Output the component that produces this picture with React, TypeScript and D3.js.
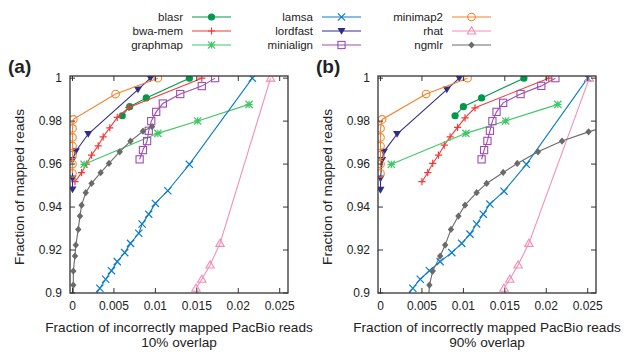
import React from 'react';
import * as d3 from 'd3';

type Pt = [number, number];

const seriesNames = ['blasr', 'bwa-mem', 'graphmap', 'lamsa', 'lordfast', 'minialign', 'minimap2', 'rhat', 'ngmlr'];
const seriesColors = ['#00994a', '#f03a3a', '#3ec864', '#0a7ccc', '#2e2e8a', '#a04cb4', '#f5822c', '#f58cb8', '#6a6a6a'];
const seriesMarkers = ['dot', 'plus', 'star', 'cross', 'tridown', 'square', 'circle', 'triup', 'diamond'];

const xTicks = [0, 0.005, 0.01, 0.015, 0.02, 0.025];
const yTicks = [0.9, 0.92, 0.94, 0.96, 0.98, 1];

// panel (a): 10% overlap
const blasrA: Pt[] = [[0.006, 0.9825], [0.0069, 0.9867], [0.0089, 0.9908], [0.0141, 1.0]];
const bwaA: Pt[] = [[0.0003, 0.9518], [0.0011, 0.956], [0.0017, 0.96], [0.0023, 0.9642], [0.0031, 0.9685], [0.0037, 0.9727], [0.0045, 0.9769], [0.0054, 0.9817], [0.0068, 0.9864], [0.0156, 1.0]];
const graphmapA: Pt[] = [[0.0014, 0.9599], [0.0103, 0.9743], [0.0151, 0.9801], [0.0213, 0.9878]];
const lamsaA: Pt[] = [[0.0026, 0.898], [0.0033, 0.9022], [0.004, 0.9064], [0.0047, 0.9104], [0.0054, 0.9146], [0.0063, 0.9188], [0.007, 0.9231], [0.008, 0.9278], [0.0084, 0.9321], [0.0092, 0.9367], [0.01, 0.9417], [0.0115, 0.9476], [0.0141, 0.9599], [0.0217, 1.0]];
const lordfastA: Pt[] = [[0, 0.9482], [0, 0.9533], [0, 0.9619], [0.0004, 0.966], [0.0019, 0.974], [0.0079, 0.9947], [0.0094, 1.0]];
const minialignA: Pt[] = [[0.0081, 0.9622], [0.0085, 0.9665], [0.009, 0.9707], [0.0092, 0.9755], [0.0095, 0.98], [0.0101, 0.9843], [0.0109, 0.9882], [0.013, 0.9926], [0.0156, 0.9963], [0.0172, 1.0]];
const minimap2A: Pt[] = [[0, 0.9557], [0, 0.96], [0, 0.9642], [0, 0.9684], [0, 0.9724], [0, 0.9766], [0.0001, 0.9808], [0.0052, 0.9926], [0.0103, 1.0]];
const rhatA: Pt[] = [[0.0149, 0.9022], [0.0156, 0.9064], [0.0166, 0.913], [0.0178, 0.9231], [0.0239, 1.0]];
const ngmlrA: Pt[] = [[0.0001, 0.897], [0.0001, 0.9037], [0.0001, 0.9102], [0.0003, 0.9172], [0.0004, 0.9223], [0.0007, 0.9296], [0.0009, 0.9358], [0.0011, 0.9409], [0.0016, 0.9467], [0.0023, 0.951], [0.0034, 0.956], [0.0044, 0.9603], [0.0057, 0.9657], [0.007, 0.9707], [0.0085, 0.9753], [0.0096, 0.9774]];

// panel (b): 90% overlap
const blasrB: Pt[] = [[0.009, 0.9825], [0.01, 0.9867], [0.0122, 0.9908], [0.0173, 1.0]];
const bwaB: Pt[] = [[0.005, 0.9518], [0.0057, 0.956], [0.0063, 0.9603], [0.007, 0.9642], [0.0077, 0.9688], [0.0084, 0.9727], [0.0093, 0.9771], [0.0102, 0.9815], [0.0114, 0.9862], [0.0203, 1.0]];
const graphmapB: Pt[] = [[0.0013, 0.9599], [0.0103, 0.9743], [0.0151, 0.9801], [0.0214, 0.9878]];
const lamsaB: Pt[] = [[0.0031, 0.898], [0.0039, 0.9022], [0.0048, 0.9064], [0.0059, 0.9104], [0.0072, 0.9146], [0.0086, 0.9188], [0.0098, 0.9231], [0.0108, 0.9274], [0.0116, 0.9321], [0.0124, 0.9367], [0.0132, 0.9414], [0.0149, 0.9474], [0.0176, 0.9599], [0.025, 1.0]];
const lordfastB: Pt[] = [[0, 0.948], [0, 0.9533], [0.0002, 0.9619], [0.0004, 0.9657], [0.002, 0.974], [0.008, 0.9947], [0.0095, 1.0]];
const minialignB: Pt[] = [[0.0122, 0.9622], [0.0125, 0.9665], [0.0129, 0.9708], [0.0132, 0.9755], [0.0135, 0.98], [0.014, 0.9843], [0.0148, 0.9885], [0.0169, 0.9926], [0.0194, 0.9964], [0.0211, 1.0]];
const minimap2B: Pt[] = [[0, 0.9557], [0, 0.96], [0, 0.9642], [0, 0.9684], [0, 0.9724], [0, 0.9766], [0.0002, 0.9808], [0.0055, 0.9926], [0.0105, 1.0]];
const rhatB: Pt[] = [[0.0149, 0.9022], [0.0156, 0.9064], [0.0166, 0.913], [0.0179, 0.9231], [0.0252, 1.0]];
const ngmlrB: Pt[] = [[0.0058, 0.897], [0.0059, 0.9037], [0.0063, 0.9102], [0.0072, 0.9172], [0.0078, 0.9223], [0.0085, 0.9296], [0.0094, 0.9358], [0.0102, 0.9409], [0.0116, 0.9467], [0.0128, 0.951], [0.0148, 0.9561], [0.0165, 0.9603], [0.019, 0.9657], [0.0219, 0.9707], [0.0251, 0.975], [0.0275, 0.9778]];

const panelA = [blasrA, bwaA, graphmapA, lamsaA, lordfastA, minialignA, minimap2A, rhatA, ngmlrA];
const panelB = [blasrB, bwaB, graphmapB, lamsaB, lordfastB, minialignB, minimap2B, rhatB, ngmlrB];

const FONT = '"Liberation Sans", Arial, Helvetica, sans-serif';

const Marker = ({ type, x, y, color }: { type: string; x: number; y: number; color: string }) => {
  const s = 3.6;
  switch (type) {
    case 'dot':
      return <circle cx={x} cy={y} r={3.6} fill={color} />;
    case 'plus':
      return <path d={`M${x - s},${y}H${x + s}M${x},${y - s}V${y + s}`} stroke={color} strokeWidth={1.2} />;
    case 'cross':
      return <path d={`M${x - s},${y - s}L${x + s},${y + s}M${x - s},${y + s}L${x + s},${y - s}`} stroke={color} strokeWidth={1.2} />;
    case 'star':
      return <path d={`M${x - s},${y}H${x + s}M${x},${y - s}V${y + s}M${x - s},${y - s}L${x + s},${y + s}M${x - s},${y + s}L${x + s},${y - s}`} stroke={color} strokeWidth={1.2} />;
    case 'tridown':
      return <path d={`M${x - 4},${y - 3}L${x + 4},${y - 3}L${x},${y + 3.8}Z`} fill={color} />;
    case 'triup':
      return <path d={`M${x - 4.2},${y + 3}L${x + 4.2},${y + 3}L${x},${y - 4.2}Z`} fill="none" stroke={color} strokeWidth={1.1} />;
    case 'square':
      return <rect x={x - 3.6} y={y - 3.6} width={7.2} height={7.2} fill="none" stroke={color} strokeWidth={1.1} />;
    case 'circle':
      return <circle cx={x} cy={y} r={3.8} fill="none" stroke={color} strokeWidth={1.1} />;
    case 'diamond':
      return <path d={`M${x},${y - 3.6}L${x + 3.2},${y}L${x},${y + 3.6}L${x - 3.2},${y}Z`} fill={color} />;
    default:
      return null;
  }
};

const Panel = ({ id, series, left, label, sub }: { id: string; series: Pt[][]; left: number; label: string; sub: string }) => {
  const top = 76;
  const bottom = 293;
  const w = 218;
  const x = d3.scaleLinear().domain([-0.0003, 0.026]).range([left, left + w]);
  const y = d3.scaleLinear().domain([0.9, 1.001]).range([bottom, top]);
  const line = d3.line<Pt>().x(d => x(d[0])).y(d => y(d[1]));
  const tk = 5;
  return (
    <g>
      <defs>
        <clipPath id={`clip-${id}`}>
          <rect x={left} y={top} width={w} height={bottom - top} />
        </clipPath>
      </defs>
      <g clipPath={`url(#clip-${id})`}>
        {series.map((pts, i) => (
          <g key={seriesNames[i]}>
            <path d={line(pts) || ''} fill="none" stroke={seriesColors[i]} strokeWidth={1.1} />
            {pts.map((p, j) => (
              <Marker key={j} type={seriesMarkers[i]} x={x(p[0])} y={y(p[1])} color={seriesColors[i]} />
            ))}
          </g>
        ))}
      </g>
      {xTicks.map(t => (
        <g key={t}>
          <line x1={x(t)} x2={x(t)} y1={bottom} y2={bottom - tk} stroke="#333" />
          <line x1={x(t)} x2={x(t)} y1={top} y2={top + tk} stroke="#333" />
          <text x={x(t)} y={bottom + 17} textAnchor="middle" fontSize={12} fill="#222">{t}</text>
        </g>
      ))}
      {yTicks.map(t => (
        <g key={t}>
          <line x1={left} x2={left + tk} y1={y(t)} y2={y(t)} stroke="#333" />
          <line x1={left + w} x2={left + w - tk} y1={y(t)} y2={y(t)} stroke="#333" />
          <text x={left - 8} y={y(t) + 4} textAnchor="end" fontSize={12} fill="#222">{t}</text>
        </g>
      ))}
      <rect x={left} y={top} width={w} height={bottom - top} fill="none" stroke="#333" strokeWidth={1.3} />
      <text transform={`translate(${left - 46},187) rotate(-90)`} textAnchor="middle" fontSize={13.7} fill="#222">
        Fraction of mapped reads
      </text>
      <text x={left + w / 2} y={332} textAnchor="middle" fontSize={13.6} fill="#222">
        Fraction of incorrectly mapped PacBio reads
      </text>
      <text x={left + w / 2} y={347} textAnchor="middle" fontSize={13.6} fill="#222">{sub}</text>
      <text x={left - 62} y={73} fontSize={19} fontWeight="bold" fill="#222">
        (<tspan>{label}</tspan>)
      </text>
    </g>
  );
};

const Legend = () => {
  const colEnds = [183, 313, 443];
  const rowYs = [17, 31, 45];
  return (
    <g>
      {seriesNames.map((name, i) => {
        const cx = colEnds[Math.floor(i / 3)];
        const ry = rowYs[i % 3];
        return (
          <g key={name}>
            <text x={cx} y={ry + 4} textAnchor="end" fontSize={11.5} fill="#222">{name}</text>
            <line x1={cx + 9} x2={cx + 48} y1={ry} y2={ry} stroke={seriesColors[i]} strokeWidth={1.1} />
            <Marker type={seriesMarkers[i]} x={cx + 28.5} y={ry} color={seriesColors[i]} />
          </g>
        );
      })}
    </g>
  );
};

export default function App() {
  return (
    <svg width={624} height={352} style={{ position: 'absolute', left: 0, top: 0, background: '#fff' }} fontFamily={FONT}>
      <rect width={624} height={352} fill="#fff" />
      <Legend />
      <Panel id="a" series={panelA} left={70} label="a" sub="10% overlap" />
      <Panel id="b" series={panelB} left={378} label="b" sub="90% overlap" />
    </svg>
  );
}
